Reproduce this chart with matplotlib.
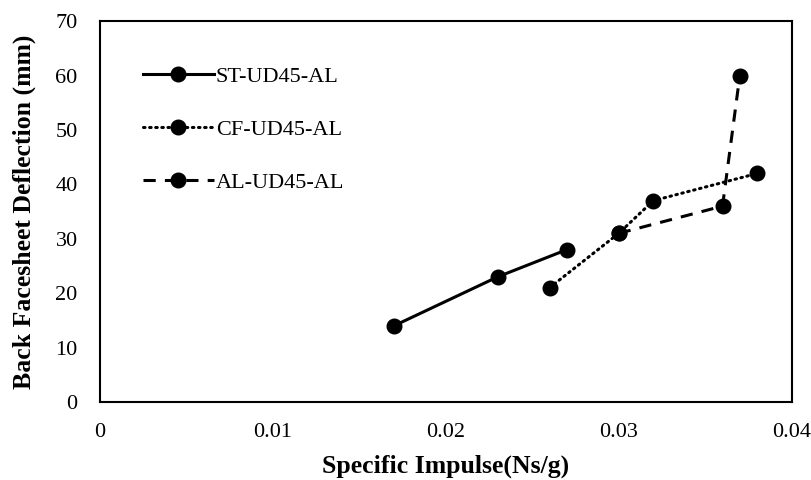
import matplotlib.pyplot as plt

plt.rcParams['font.family'] = ['Liberation Serif', 'DejaVu Serif']

st_x = [0.017, 0.023, 0.027]
st_y = [14, 23, 28]
cf_x = [0.026, 0.030, 0.032, 0.038]
cf_y = [21, 31, 37, 42]
al_x = [0.030, 0.036, 0.037]
al_y = [31, 36, 60]

fig = plt.figure(figsize=(8.12, 4.8), dpi=100)
ax = fig.add_axes([0.123, 0.1625, 0.852, 0.7935])

ax.plot(st_x, st_y, color='black', lw=2.2, ls='-', marker='o', ms=10.5, label='ST-UD45-AL')
ax.plot(cf_x, cf_y, color='black', lw=2.2, ls=(0, (0.5, 1.5)), dash_capstyle='round',
        marker='o', ms=10.5, label='CF-UD45-AL')
ax.plot(al_x, al_y, color='black', lw=2.2, ls=(0, (4, 3)), marker='o', ms=10.5, label='AL-UD45-AL')

ax.set_xlim(0, 0.04)
ax.set_ylim(0, 70)
ax.set_xticks([0, 0.01, 0.02, 0.03, 0.04])
ax.set_xticklabels(['0', '0.01', '0.02', '0.03', '0.04'])
ax.set_yticks(range(0, 71, 10))
ax.tick_params(length=0, labelsize=16)
ax.tick_params(axis='y', pad=16)
ax.tick_params(axis='x', pad=15)
for s in ax.spines.values():
    s.set_linewidth(1.5)

ax.set_xlabel('Specific Impulse(Ns/g)', fontsize=18.5, fontweight='bold', labelpad=9)
ax.set_ylabel('Back Facesheet Deflection (mm)', fontsize=18.5, fontweight='bold', labelpad=14)

ax.legend(loc='upper left', frameon=False, fontsize=16, handlelength=3.2, handletextpad=0.1,
          labelspacing=1.47, bbox_to_anchor=(0.049, 0.905), borderaxespad=0)

fig.savefig('out.png', dpi=100)
